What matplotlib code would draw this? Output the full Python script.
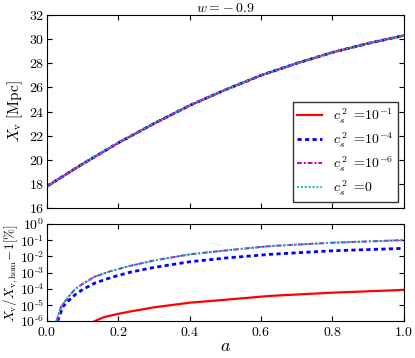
import matplotlib
matplotlib.use("Agg")
import matplotlib.pyplot as plt
import numpy as np

plt.rcParams['font.family'] = 'serif'
plt.rcParams['font.serif'] = ['cmr10', 'DejaVu Serif']
plt.rcParams['mathtext.fontset'] = 'cm'
plt.rcParams['axes.unicode_minus'] = False
plt.rcParams['axes.formatter.use_mathtext'] = True
plt.rcParams['xtick.direction'] = 'in'
plt.rcParams['ytick.direction'] = 'in'
plt.rcParams['xtick.top'] = True
plt.rcParams['ytick.right'] = True
plt.rcParams['font.size'] = 10

# scale factor samples
a = [0.0, 0.1, 0.2, 0.3, 0.4, 0.5, 0.6, 0.7, 0.8, 0.9, 1.0]
# comoving void size [Mpc], same for all c_s^2 by eye
xv = [17.8, 19.65, 21.4, 23.0, 24.5, 25.8, 27.0, 28.0, 28.9, 29.65, 30.3]

# relative difference in percent, stored as log10
a_c0 = [0.027, 0.04, 0.06, 0.08, 0.1, 0.134, 0.18, 0.232, 0.3, 0.4, 0.5, 0.625, 0.8, 1.0]
log_c0 = [-6.0, -5.1, -4.5, -4.0, -3.7, -3.25, -2.9, -2.59, -2.25, -1.87, -1.63, -1.36, -1.15, -0.99]
log_c6 = log_c0
a_c4 = [0.03, 0.045, 0.06, 0.08, 0.1, 0.134, 0.18, 0.232, 0.3, 0.4, 0.5, 0.625, 0.8, 1.0]
log_c4 = [-6.0, -5.1, -4.75, -4.35, -4.05, -3.65, -3.3, -2.98, -2.68, -2.33, -2.1, -1.87, -1.65, -1.5]
a_c1 = [0.134, 0.16, 0.2, 0.232, 0.3, 0.4, 0.5, 0.625, 0.8, 1.0]
log_c1 = [-6.0, -5.75, -5.55, -5.41, -5.15, -4.86, -4.68, -4.44, -4.24, -4.07]
log_ticks = [0, -1, -2, -3, -4, -5, -6]

styles = [
    dict(color='r', lw=1.6, ls='-'),
    dict(color='b', lw=2.0, ls=(0, (1.5, 1.2))),
    dict(color='m', lw=1.4, ls=(0, (2.5, 1, 1, 1))),
    dict(color='c', lw=1.4, ls=(0, (1, 1))),
]
labels = [r'$c_s^{\,2}\ =\!10^{-1}$', r'$c_s^{\,2}\ =\!10^{-4}$',
          r'$c_s^{\,2}\ =\!10^{-6}$', r'$c_s^{\,2}\ =\!0$']

fig = plt.figure(figsize=(4.15, 3.58), dpi=100)
ax1 = fig.add_axes([0.113, 0.419, 0.86, 0.539])
ax2 = fig.add_axes([0.113, 0.103, 0.86, 0.271])

for st, lab in zip(styles, labels):
    ax1.plot(a, xv, label=lab, **st)
ax1.set_xlim(0, 1)
ax1.set_ylim(16, 32)
ax1.set_yticks(np.arange(16, 33, 2))
ax1.set_xticks(np.arange(0, 1.01, 0.2))
ax1.set_xticklabels([])
ax1.tick_params(axis='y', pad=2)
ax1.set_ylabel(r'$X_{\rm v}\ [\rm Mpc]$', fontsize=11)
ax1.yaxis.set_label_coords(-0.062, 0.5)
ax1.set_title(r'$w=\!-0.9$', fontsize=10, pad=2)
ax1.legend(loc='lower right', fontsize=10, fancybox=False, edgecolor='k',
           handlelength=1.8, borderaxespad=0.45, labelspacing=0.35,
           borderpad=0.3)

ax2.plot(a_c1, 10 ** np.array(log_c1), **styles[0])
ax2.plot(a_c4, 10 ** np.array(log_c4), **styles[1])
ax2.plot(a_c0, 10 ** np.array(log_c6), **styles[2])
ax2.plot(a_c0, 10 ** np.array(log_c0), **styles[3])
ax2.set_yscale('log')
ax2.set_xlim(0, 1)
ax2.set_ylim(1e-6, 1)
ax2.set_yticks([10.0 ** k for k in log_ticks])
ax2.set_yticklabels([r'$10^{%d}$' % k if k == 0 else r'$10^{\text{-}%d}$' % -k
                     for k in log_ticks])
ax2.minorticks_off()
ax2.tick_params(axis='y', pad=2)
ax2.set_xticks(np.arange(0, 1.01, 0.2))
ax2.set_ylabel(r'$X_{\rm v}/X_{\rm v,hom}\!-\!1[\%]$', fontsize=9.5)
ax2.yaxis.set_label_coords(-0.076, 0.5)
ax2.set_xlabel(r'$a$', fontsize=13, labelpad=0)

fig.savefig('out.png', dpi=100)
